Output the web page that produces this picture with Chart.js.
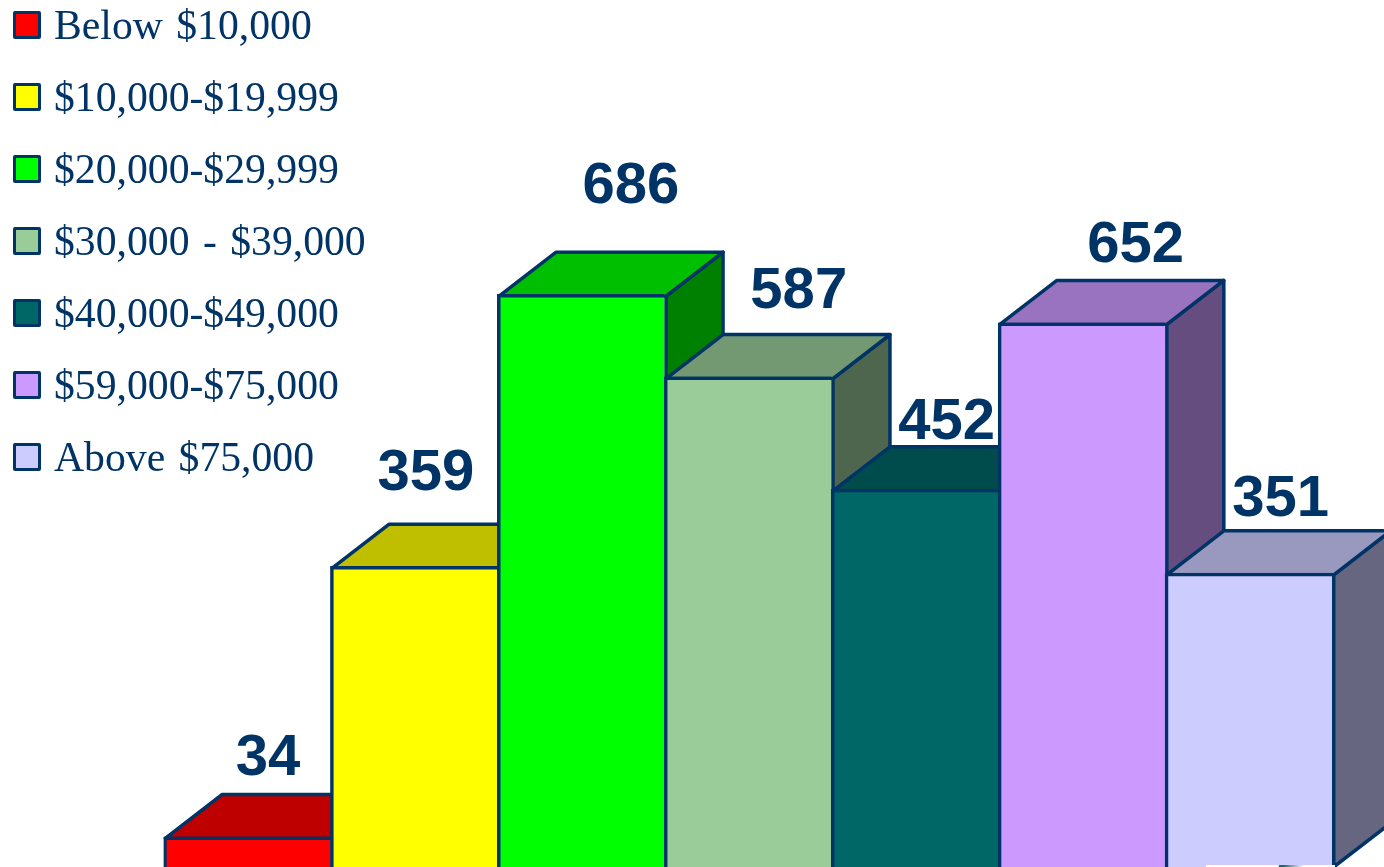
<!DOCTYPE html>
<html>
<head>
<meta charset="utf-8">
<title>Income chart</title>
<script src="https://cdn.jsdelivr.net/npm/chart.js@4"></script>
<style>
  html, body { margin: 0; padding: 0; background: #fff; overflow: hidden; }
  #wrap { position: relative; width: 1384px; height: 867px; overflow: hidden; }
  #incomeChart { position: absolute; left: 0; top: 0; }
  #legend { position: absolute; left: 13px; top: -11px; }
  .row { display: flex; align-items: center; height: 72px; font: 41.7px "Liberation Serif", serif; word-spacing: 3px; color: #003366; white-space: pre; }
  .box { width: 22px; height: 22px; border: 3px solid #003366; border-radius: 2px; margin-right: 13px; }
  /* scrap of a logo that pokes in at the bottom edge of the original */
  #scrap { position: absolute; left: 1206px; top: 865px; width: 129px; height: 2px;
           background: linear-gradient(90deg, #fff 56%, #1d6b5c 57%, #1d6b5c 60%, #fff 76%); }
</style>
</head>
<body>
<div id="wrap">
  <canvas id="incomeChart" width="1384" height="867"></canvas>
  <div id="legend"></div>
  <div id="scrap"></div>
</div>
<script>
var categories = ["Below $10,000", "$10,000-$19,999", "$20,000-$29,999", "$30,000 - $39,000", "$40,000-$49,000", "$59,000-$75,000", "Above $75,000"];
var counts = [34, 359, 686, 587, 452, 652, 351];

var frontColors = ["#FF0000", "#FFFF00", "#00FF00", "#99CC99", "#006666", "#CC99FF", "#CCCCFF"];
var topColors = ["#BF0000", "#BFBF00", "#00BF00", "#739973", "#004C4C", "#9973BF", "#9999BF"];
var sideColors = ["#800000", "#808000", "#008000", "#4D664D", "#003333", "#664D80", "#666680"];

// the labels were placed by hand in the original, so they don't sit at a fixed offset
var labelShiftX = [21, 12, 50, 51, 32, 54, 32];
var labelShiftY = [78, 92, 107, 85, 66, 77, 73];

var lineColor = "#003366";
var lineWidth = 3.5;
var depthX = 57;
var depthY = 44;

function facePath(ctx, points, fill) {
    ctx.beginPath();
    ctx.moveTo(points[0][0], points[0][1]);
    for (var i = 1; i < points.length; i++) {
        ctx.lineTo(points[i][0], points[i][1]);
    }
    ctx.closePath();
    ctx.fillStyle = fill;
    ctx.fill();
    ctx.stroke();
}

// top and side faces go under the bars, left to right, so each bar hides its neighbour
var depthPlugin = {
    id: "depth",
    beforeDatasetsDraw: function(chart) {
        var ctx = chart.ctx;
        var bars = chart.getDatasetMeta(0).data;
        ctx.save();
        ctx.strokeStyle = lineColor;
        ctx.lineWidth = lineWidth;
        ctx.lineJoin = "round";
        bars.forEach(function(bar, i) {
            var left = bar.x - bar.width / 2 + lineWidth / 2;
            var right = bar.x + bar.width / 2 + lineWidth / 2;
            var top = bar.y + lineWidth / 2;
            var bottom = bar.base;
            facePath(ctx, [[right, top], [right + depthX, top - depthY], [right + depthX, bottom - depthY], [right, bottom]], sideColors[i]);
            facePath(ctx, [[left, top], [left + depthX, top - depthY], [right + depthX, top - depthY], [right, top]], topColors[i]);
        });
        ctx.restore();
    },
    afterDatasetsDraw: function(chart) {
        var ctx = chart.ctx;
        var bars = chart.getDatasetMeta(0).data;
        ctx.save();
        ctx.font = "bold 58px 'Liberation Sans', sans-serif";
        ctx.fillStyle = lineColor;
        ctx.textAlign = "center";
        ctx.textBaseline = "middle";
        bars.forEach(function(bar, i) {
            ctx.fillText(String(counts[i]), bar.x + labelShiftX[i], bar.y - labelShiftY[i]);
        });
        ctx.restore();
    }
};

function buildLegend() {
    var legend = document.getElementById("legend");
    categories.forEach(function(name, i) {
        var row = document.createElement("div");
        row.className = "row";
        var box = document.createElement("span");
        box.className = "box";
        box.style.background = frontColors[i];
        var text = document.createElement("span");
        text.textContent = name;
        row.appendChild(box);
        row.appendChild(text);
        legend.appendChild(row);
    });
}

function incomeChartConfig() {
    return new Chart(document.getElementById("incomeChart"), {
        type: "bar",
        data: {
            labels: categories,
            datasets: [{
                data: counts,
                base: -2.4,
                backgroundColor: frontColors,
                borderColor: lineColor,
                borderSkipped: false,
                // right edge comes from the side face stroke
                borderWidth: { top: lineWidth, left: lineWidth, bottom: 0, right: 0 },
                barPercentage: 1,
                categoryPercentage: 1
            }]
        },
        options: {
            responsive: false,
            animation: false,
            layout: { padding: { left: 163.5, right: 52, top: 0, bottom: 0 } },
            plugins: { legend: { display: false }, tooltip: { enabled: false } },
            scales: {
                x: { display: false },
                y: { display: false, min: -2.4, max: 1040 }
            }
        },
        plugins: [depthPlugin]
    });
}

buildLegend();
incomeChartConfig();
</script>
</body>
</html>
